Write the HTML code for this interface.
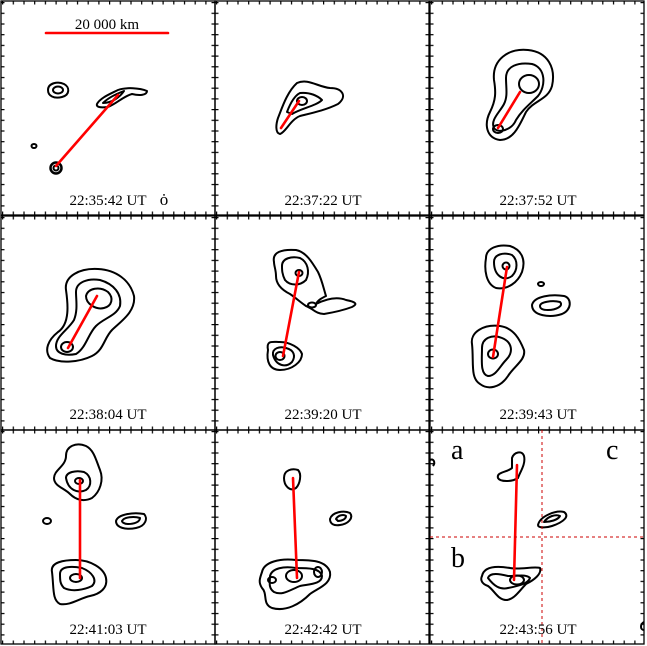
<!DOCTYPE html>
<html><head><style>html,body{margin:0;padding:0;background:#fff}svg{display:block}</style></head>
<body>
<svg width="647" height="646" viewBox="0 0 647 646" xmlns="http://www.w3.org/2000/svg" font-family="Liberation Serif, serif">
<defs>
<pattern id="th" patternUnits="userSpaceOnUse" width="10.7" height="4" x="1" y="0"><rect x="0" y="0" width="1.2" height="4" fill="#000"/></pattern>
<pattern id="tv" patternUnits="userSpaceOnUse" width="4" height="10.7" x="0" y="1"><rect x="0" y="0" width="4" height="1.2" fill="#000"/></pattern>
<g id="frame">
<rect x="0" y="0" width="214" height="214" fill="none" stroke="#000" stroke-width="1.3"/>
<rect x="0" y="0" width="214" height="3.5" fill="url(#th)"/>
<rect x="0" y="210.5" width="214" height="3.5" fill="url(#th)"/>
<rect x="0" y="0" width="3.5" height="214" fill="url(#tv)"/>
<rect x="210.5" y="0" width="3.5" height="214" fill="url(#tv)"/>
</g>
</defs>
<use href="#frame" x="1" y="1"/><use href="#frame" x="215" y="1"/><use href="#frame" x="430" y="1"/>
<use href="#frame" x="1" y="216"/><use href="#frame" x="215" y="216"/><use href="#frame" x="430" y="216"/>
<use href="#frame" x="1" y="430"/><use href="#frame" x="215" y="430"/><use href="#frame" x="430" y="430"/>

<g fill="none" stroke="#000" stroke-width="2" stroke-linejoin="round">
<path d="M48,90 C48,83 58,81 64,84 C70,87 70,95 62,97 C54,99 48,96 48,90Z"/>
<ellipse cx="58" cy="90" rx="5" ry="3.5"/>
<path d="M97,104 C100,98 110,94 118,90 C126,87 140,88 147,91 C147,95 140,96 132,94 C124,96 116,104 108,107 C100,108 96,107 97,104Z"/>
<path d="M103,103 C108,98 116,94 124,91 C120,97 112,103 103,103Z"/>
<ellipse cx="34" cy="146" rx="2.5" ry="2"/>
<circle cx="56" cy="168" r="5.5" stroke-width="2.5"/>
<circle cx="56" cy="168" r="2.5" stroke-width="2"/>
<path d="M278,118 C282,108 287,92 297,83 C308,78 318,87 330,88 C342,88 348,96 338,104 C326,110 312,113 300,116 C290,120 286,132 280,134 C275,133 276,124 278,118Z"/>
<path d="M287,112 C290,104 294,96 300,93 C310,92 318,96 322,100 C316,106 302,108 292,114Z"/>
<ellipse cx="302" cy="101" rx="5" ry="4"/>
<path d="M494,80 C492,60 508,48 528,50 C548,52 556,68 552,86 C548,100 534,100 526,112 C520,124 514,140 500,140 C486,138 484,124 490,112 C496,100 496,92 494,80Z"/>
<path d="M506,78 C506,66 518,62 532,64 C546,68 546,86 538,96 C530,104 522,110 516,120 C512,130 498,134 494,128 C490,120 500,112 504,104 C508,96 506,88 506,78Z"/>
<ellipse cx="529" cy="84" rx="10" ry="9"/>
<ellipse cx="498" cy="129" rx="5" ry="4"/>
<path d="M66,290 C64,276 80,268 98,269 C116,270 130,280 134,296 C136,312 120,322 112,330 C104,338 104,350 92,356 C80,362 60,364 50,358 C44,350 48,340 58,332 C70,324 68,304 66,290Z"/>
<path d="M76,292 C76,282 88,278 100,280 C114,284 122,294 120,306 C116,316 104,318 96,326 C88,334 86,348 76,354 C66,356 56,354 56,346 C56,336 68,330 74,320 C78,310 76,300 76,292Z"/>
<path d="M86,296 C88,288 100,286 108,292 C114,298 112,306 104,308 C96,310 86,304 86,296Z"/>
<ellipse cx="67" cy="347" rx="6" ry="5"/>
<path d="M274,262 C272,252 282,249 296,250 C306,252 312,262 318,272 C322,280 324,290 326,296 C322,298 318,300 316,304 C324,300 336,296 346,300 C356,302 358,304 352,307 C344,310 336,312 324,314 C316,314 312,308 306,306 C300,302 296,298 290,294 C282,290 276,284 276,276 C276,270 274,266 274,262Z"/>
<path d="M282,266 C282,258 292,256 300,258 C308,262 310,272 306,280 C300,286 290,286 285,280 C282,274 282,270 282,266Z"/>
<ellipse cx="299" cy="273" rx="3.5" ry="3"/>
<ellipse cx="312" cy="305" rx="4" ry="2.5"/>
<path d="M268,350 C266,340 272,342 280,342 C290,342 300,348 302,354 C302,362 292,370 280,370 C270,370 266,362 268,350Z"/>
<path d="M273,355 C272,348 280,346 286,348 C294,350 296,356 292,362 C286,368 276,366 273,355Z"/>
<ellipse cx="280" cy="356" rx="4.5" ry="4"/>
<path d="M486,258 C486,248 498,244 510,246 C522,250 526,260 522,272 C518,282 508,290 496,288 C486,284 484,270 486,258Z"/>
<path d="M494,262 C494,254 504,252 512,255 C518,260 518,270 512,276 C504,282 494,276 494,262Z"/>
<ellipse cx="506" cy="266" rx="3.5" ry="3.5"/>
<path d="M532,305 C534,296 552,294 564,296 C572,298 572,310 562,314 C550,318 532,316 532,305Z"/>
<path d="M540,306 C540,302 552,300 560,302 C564,306 556,310 548,310 C542,310 540,308 540,306Z"/>
<ellipse cx="541" cy="284" rx="3" ry="2"/>
<path d="M472,344 C470,332 484,324 500,326 C514,328 520,340 524,350 C526,360 514,366 508,376 C500,388 488,390 480,384 C470,378 474,362 472,344Z"/>
<path d="M482,348 C482,338 492,334 502,338 C512,342 514,352 506,360 C500,366 496,376 488,376 C480,374 482,360 482,348Z"/>
<ellipse cx="493" cy="354" rx="5" ry="4.5"/>
<path d="M66,456 C66,446 76,442 86,446 C94,450 96,460 100,470 C104,480 100,492 92,498 C84,502 76,500 70,494 C64,488 54,486 54,478 C54,470 66,466 66,456Z"/>
<path d="M66,478 C66,472 76,470 84,472 C92,476 92,486 86,490 C78,494 68,490 66,478Z"/>
<ellipse cx="79" cy="481" rx="4" ry="3"/>
<ellipse cx="47" cy="521" rx="4" ry="3"/>
<path d="M116,521 C118,514 134,512 144,514 C148,518 146,526 136,528 C126,530 116,528 116,521Z"/>
<path d="M122,521 C124,517 134,516 140,518 C140,522 134,524 128,524 C124,524 122,522 122,521Z"/>
<path d="M52,572 C50,562 64,560 76,560 C90,560 104,568 106,578 C108,588 100,594 90,596 C80,598 70,606 60,604 C52,600 54,588 52,572Z"/>
<path d="M60,574 C60,566 72,566 82,568 C92,572 98,580 92,586 C84,590 72,592 64,588 C60,584 60,580 60,574Z"/>
<ellipse cx="76" cy="578" rx="6" ry="4"/>
<path d="M284,478 C284,470 292,468 298,470 C302,474 300,484 296,488 C290,492 284,486 284,478Z"/>
<path d="M330,519 C332,512 344,510 350,513 C354,518 348,524 340,525 C334,526 330,524 330,519Z"/>
<path d="M336,519 C338,515 344,514 346,516 C346,519 342,521 338,521Z"/>
<path d="M262,572 C264,562 280,558 296,560 C310,560 326,560 330,572 C332,584 318,588 310,594 C300,604 286,612 272,608 C262,604 268,594 262,588 C258,582 260,578 262,572Z"/>
<path d="M270,576 C272,568 284,566 296,568 C308,568 320,568 322,576 C322,584 310,584 300,586 C290,590 282,596 274,592 C268,588 270,582 270,576Z"/>
<ellipse cx="294" cy="576" rx="8" ry="6"/>
<ellipse cx="318" cy="572" rx="4" ry="5"/>
<ellipse cx="272" cy="580" rx="4" ry="3"/>
<path d="M512,458 C514,452 522,450 524,456 C526,464 520,472 518,478 C512,482 500,482 498,478 C496,472 508,472 512,468Z"/>
<path d="M538,525 C540,516 556,510 564,512 C570,516 564,522 552,526 C546,528 538,528 538,525Z"/>
<path d="M544,522 C548,516 556,514 560,516 C558,520 550,522 544,522Z"/>
<path d="M482,576 C484,566 498,566 510,568 C520,570 534,566 540,568 C542,574 534,580 526,584 C520,590 514,600 506,600 C498,600 494,590 488,586 C482,584 480,580 482,576Z"/>
<path d="M488,578 C490,572 500,574 508,576 C518,576 526,574 530,578 C528,584 518,586 508,588 C500,590 494,586 488,578Z"/>
<ellipse cx="517" cy="580" rx="7" ry="4.5"/>
<path d="M430,460 C433,458 436,462 433,466"/>
<path d="M644,622 C640,624 640,630 644,630"/>
</g>

<g stroke="#f00" stroke-width="2.6" stroke-linecap="round">
<line x1="46" y1="33" x2="168" y2="33"/>
<line x1="56" y1="166" x2="118" y2="95"/>
<line x1="281" y1="128" x2="299" y2="101"/>
<line x1="498" y1="128" x2="520" y2="92"/>
<line x1="68" y1="348" x2="97" y2="296"/>
<line x1="299" y1="272" x2="283" y2="356"/>
<line x1="507" y1="267" x2="493" y2="357"/>
<line x1="80" y1="480" x2="80" y2="578"/>
<line x1="293" y1="478" x2="297" y2="578"/>
<line x1="517" y1="465" x2="514" y2="580"/>
</g>
<g stroke="#c00" stroke-width="1" stroke-dasharray="3,3">
<line x1="542" y1="430" x2="542" y2="644"/>
<line x1="430" y1="537" x2="645" y2="537"/>
</g>

<g font-size="15" text-anchor="middle" fill="#000">
<text x="107" y="29">20 000 km</text>
<text x="108" y="205">22:35:42 UT</text>
<text x="323" y="205">22:37:22 UT</text>
<text x="538" y="205">22:37:52 UT</text>
<text x="108" y="419">22:38:04 UT</text>
<text x="323" y="419">22:39:20 UT</text>
<text x="538" y="419">22:39:43 UT</text>
<text x="108" y="634">22:41:03 UT</text>
<text x="323" y="634">22:42:42 UT</text>
<text x="538" y="634">22:43:56 UT</text>
<text x="164" y="205" font-size="17">ȯ</text>
</g>
<g font-size="28" fill="#000">
<text x="451" y="459">a</text>
<text x="451" y="567">b</text>
<text x="606" y="459">c</text>
</g>
</svg>
</body></html>
